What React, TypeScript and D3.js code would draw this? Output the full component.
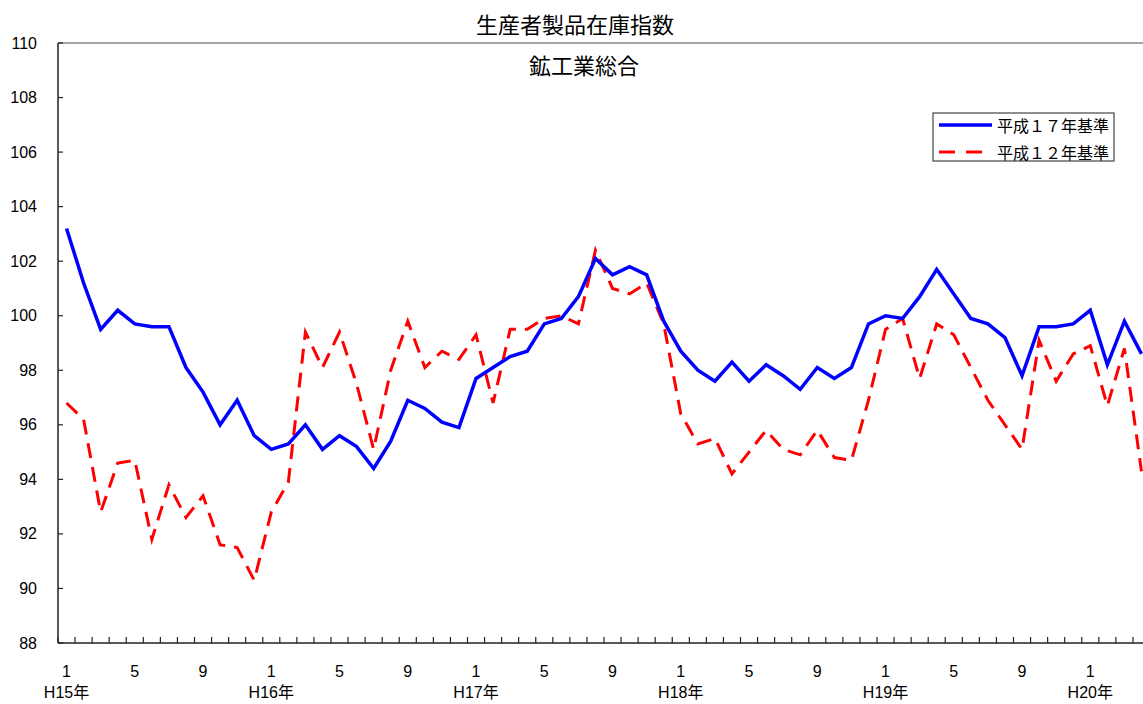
import React from "react";
import * as d3 from "d3";

const years = ["H15年", "H16年", "H17年", "H18年", "H19年", "H20年"];
const monthCount = 64;

const base17 = [
  103.2, 101.2, 99.5, 100.2, 99.7, 99.6, 99.6, 98.1, 97.2, 96.0, 96.9, 95.6,
  95.1, 95.3, 96.0, 95.1, 95.6, 95.2, 94.4, 95.4, 96.9, 96.6, 96.1, 95.9,
  97.7, 98.1, 98.5, 98.7, 99.7, 99.9, 100.7, 102.1, 101.5, 101.8, 101.5, 99.8,
  98.7, 98.0, 97.6, 98.3, 97.6, 98.2, 97.8, 97.3, 98.1, 97.7, 98.1, 99.7,
  100.0, 99.9, 100.7, 101.7, 100.8, 99.9, 99.7, 99.2, 97.8, 99.6, 99.6, 99.7,
  100.2, 98.2, 99.8, 98.6,
];

const base12 = [
  96.8, 96.2, 92.8, 94.6, 94.7, 91.8, 93.8, 92.6, 93.4, 91.6, 91.5, 90.3,
  92.8, 93.9, 99.4, 98.1, 99.4, 97.5, 95.1, 98.0, 99.8, 98.1, 98.7, 98.4,
  99.3, 96.8, 99.5, 99.5, 99.9, 100.0, 99.7, 102.4, 101.0, 100.8, 101.2, 99.7,
  96.4, 95.3, 95.5, 94.2, 95.0, 95.8, 95.1, 94.9, 95.8, 94.8, 94.7, 96.9,
  99.5, 99.9, 97.7, 99.7, 99.3, 98.1, 96.9, 96.0, 95.1, 99.1, 97.6, 98.6,
  98.9, 96.7, 98.8, 94.3,
];

const yTicks = [88, 90, 92, 94, 96, 98, 100, 102, 104, 106, 108, 110];
const monthLabels = [1, 5, 9];

const W = 1143;
const H = 704;
const left = 58;
const right = 1150;
const top = 43;
const bottom = 643;
const font = "'Liberation Sans', Arial, 'Noto Sans CJK JP', sans-serif";
const jpFont = "'Noto Sans CJK JP', 'Liberation Sans', sans-serif";

export default function App() {
  const idx = d3.range(monthCount);
  const x = d3.scaleBand<number>().domain(idx).range([left, right]).padding(0);
  const cx = (i: number) => (x(i) as number) + x.bandwidth() / 2;
  const y = d3.scaleLinear().domain([88, 110]).range([bottom, top]);
  const line = d3
    .line<number>()
    .x((_, i) => cx(i))
    .y((d) => y(d));

  return (
    <svg
      width={W}
      height={H}
      style={{ position: "absolute", left: 0, top: 0, background: "#fff" }}
    >
      <text
        x={575}
        y={23}
        textAnchor="middle"
        dominantBaseline="central"
        fontSize={22}
        fontFamily={jpFont}
        fill="#000"
      >
        生産者製品在庫指数
      </text>
      <line x1={left} x2={right} y1={top} y2={top} stroke="#888" strokeWidth={1.5} />
      <text
        x={584}
        y={64}
        textAnchor="middle"
        dominantBaseline="central"
        fontSize={22}
        fontFamily={jpFont}
        fill="#000"
      >
        鉱工業総合
      </text>

      {/* y axis */}
      <line x1={left} x2={left} y1={top} y2={bottom} stroke="#222" strokeWidth={1.5} />
      {yTicks.map((t) => (
        <g key={t}>
          <line x1={left} x2={left + 5} y1={y(t)} y2={y(t)} stroke="#222" strokeWidth={1.2} />
          <text
            x={37}
            y={y(t)}
            textAnchor="end"
            dominantBaseline="central"
            fontSize={16}
            fontFamily={font}
            fill="#000"
          >
            {t}
          </text>
        </g>
      ))}

      {/* x axis */}
      <line x1={left} x2={right} y1={bottom} y2={bottom} stroke="#222" strokeWidth={1.5} />
      {d3.range(monthCount + 1).map((i) => {
        const xx = i < monthCount ? (x(i) as number) : right;
        return (
          <line key={i} x1={xx} x2={xx} y1={bottom} y2={bottom - 6} stroke="#222" strokeWidth={1.2} />
        );
      })}
      {idx
        .filter((i) => monthLabels.includes((i % 12) + 1))
        .map((i) => (
          <text
            key={"m" + i}
            x={cx(i)}
            y={671}
            textAnchor="middle"
            dominantBaseline="central"
            fontSize={16}
            fontFamily={font}
            fill="#000"
          >
            {(i % 12) + 1}
          </text>
        ))}
      {years.map((yr, k) => (
        <text
          key={yr}
          x={cx(k * 12)}
          y={692}
          textAnchor="middle"
          dominantBaseline="central"
          fontSize={16}
          fontFamily={font}
          fill="#000"
        >
          {yr}
        </text>
      ))}

      {/* series */}
      <path d={line(base12) || ""} fill="none" stroke="#ff0000" strokeWidth={3} strokeDasharray="15 9" />
      <path d={line(base17) || ""} fill="none" stroke="#0000ff" strokeWidth={3.5} strokeLinejoin="miter" />

      {/* legend */}
      <rect x={933} y={113} width={181} height={48} fill="#fff" stroke="#444" strokeWidth={1.2} />
      <line x1={939} x2={992} y1={125} y2={125} stroke="#0000ff" strokeWidth={3.5} />
      <line x1={939} x2={992} y1={152} y2={152} stroke="#ff0000" strokeWidth={3} strokeDasharray="16 11" />
      <text x={997} y={125} dominantBaseline="central" fontSize={16} fontFamily={jpFont} fill="#000">
        平成１７年基準
      </text>
      <text x={997} y={152} dominantBaseline="central" fontSize={16} fontFamily={jpFont} fill="#000">
        平成１２年基準
      </text>
    </svg>
  );
}
